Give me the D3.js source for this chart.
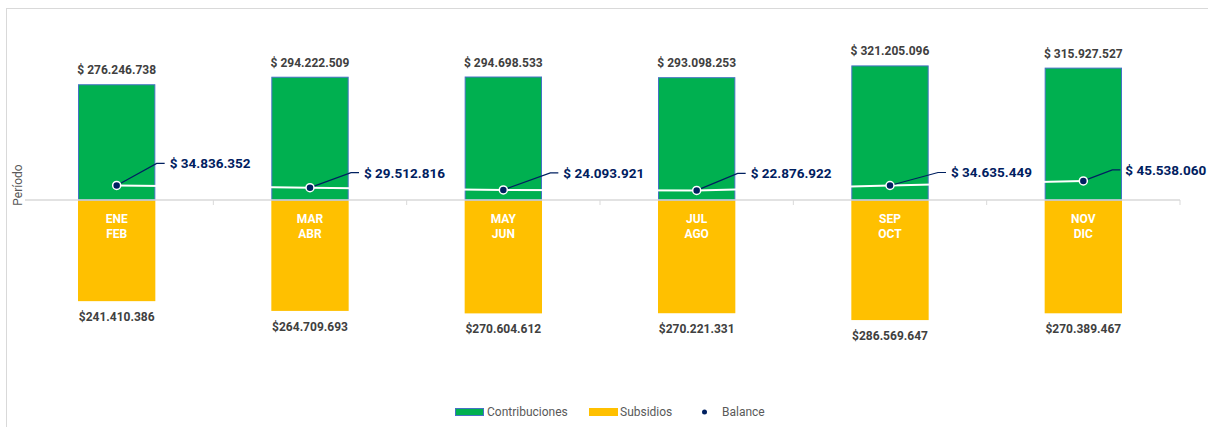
<!DOCTYPE html>
<html>
<head>
<meta charset="utf-8">
<script src="https://cdn.jsdelivr.net/npm/d3@7"></script>
<style>
  body { margin: 0; background: #fff; }
  svg { display: block; font-family: Roboto, "Liberation Sans", sans-serif; }
</style>
</head>
<body>
<svg width="1208" height="427"></svg>
<script>
document.addEventListener("DOMContentLoaded", function () {

  // data
  var periods = [["ENE", "FEB"], ["MAR", "ABR"], ["MAY", "JUN"], ["JUL", "AGO"], ["SEP", "OCT"], ["NOV", "DIC"]];
  var contribuciones = [276246738, 294222509, 294698533, 293098253, 321205096, 315927527];
  var subsidios = [241410386, 264709693, 270604612, 270221331, 286569647, 270389467];
  var balance = [34836352, 29512816, 24093921, 22876922, 34635449, 45538060];

  // label placement for the balance callouts (offset from the dot, px)
  var calloutDx = [53, 54, 60, 54, 61, 42];
  var calloutDy = [-22, -15, -17, -17, -13, -11];

  var svg = d3.select("svg");
  var fmt = function (v) {
    return d3.format(",")(v).replace(/,/g, ".");
  };

  var xScale = d3.scaleBand()
    .domain(d3.range(periods.length))
    .range([20, 1180])
    .paddingInner(0.6)
    .paddingOuter(0.3);

  var yScale = d3.scaleLinear()
    .domain([-400e6, 400e6])
    .range([200 + 167.6, 200 - 167.6]);

  // chart frame
  svg.append("rect")
    .attr("x", 6.5).attr("y", 8.5)
    .attr("width", 1400).attr("height", 600)
    .style("fill", "none")
    .style("stroke", "#d9d9d9")
    .style("stroke-width", "1px");

  // subsidios (negative side)
  svg.selectAll("rect.sub")
    .data(subsidios).enter()
    .append("rect")
    .attr("class", "sub")
    .attr("x", function (d, i) { return xScale(i); })
    .attr("width", xScale.bandwidth())
    .attr("y", yScale(0))
    .attr("height", function (d) { return yScale(-d) - yScale(0); })
    .style("fill", "#FFC000");

  // contribuciones
  svg.selectAll("rect.con")
    .data(contribuciones).enter()
    .append("rect")
    .attr("class", "con")
    .attr("x", function (d, i) { return xScale(i) + 0.5; })
    .attr("width", xScale.bandwidth() - 1)
    .attr("y", function (d) { return yScale(d) + 0.5; })
    .attr("height", function (d) { return yScale(0) - yScale(d) - 0.5; })
    .style("fill", "#00B050")
    .style("stroke", "#4472C4")
    .style("stroke-width", "1px");

  // category axis
  var xAxisG = svg.append("g").attr("id", "xAxisG");
  xAxisG.append("line")
    .attr("x1", 25).attr("x2", 1180)
    .attr("y1", yScale(0)).attr("y2", yScale(0))
    .style("stroke", "#d9d9d9")
    .style("stroke-width", "1.5px");
  xAxisG.selectAll("line.tick")
    .data(d3.range(1, periods.length + 1)).enter()
    .append("line")
    .attr("class", "tick")
    .attr("x1", function (i) { return 20 + i * xScale.step(); })
    .attr("x2", function (i) { return 20 + i * xScale.step(); })
    .attr("y1", yScale(0)).attr("y2", yScale(0) + 5)
    .style("stroke", "#d9d9d9")
    .style("stroke-width", "1px");

  svg.append("text")
    .attr("transform", "translate(22,185) rotate(-90)")
    .attr("text-anchor", "middle")
    .style("font-size", "12px")
    .style("fill", "#595959")
    .text("Período");

  // month labels inside the yellow bars
  svg.selectAll("text.period")
    .data(periods).enter()
    .append("text")
    .attr("class", "period")
    .attr("text-anchor", "middle")
    .attr("x", function (d, i) { return xScale(i) + xScale.bandwidth() / 2; })
    .attr("y", yScale(0) + 22.5)
    .style("font-size", "12px")
    .style("font-weight", "bold")
    .style("fill", "#fff")
    .each(function (d) {
      var t = d3.select(this);
      var x = t.attr("x");
      t.append("tspan").attr("x", x).text(d[0]);
      t.append("tspan").attr("x", x).attr("dy", 15).text(d[1]);
    });

  // value labels
  svg.selectAll("text.conLabel")
    .data(contribuciones).enter()
    .append("text")
    .attr("class", "conLabel")
    .attr("text-anchor", "middle")
    .attr("x", function (d, i) { return xScale(i) + xScale.bandwidth() / 2; })
    .attr("y", function (d) { return yScale(d) - 10; })
    .style("font-size", "12px")
    .style("font-weight", "bold")
    .style("fill", "#404040")
    .text(function (d) { return "$ " + fmt(d); });

  svg.selectAll("text.subLabel")
    .data(subsidios).enter()
    .append("text")
    .attr("class", "subLabel")
    .attr("text-anchor", "middle")
    .attr("x", function (d, i) { return xScale(i) + xScale.bandwidth() / 2; })
    .attr("y", function (d) { return yScale(-d) + 20; })
    .style("font-size", "12px")
    .style("font-weight", "bold")
    .style("fill", "#404040")
    .text(function (d) { return "$" + fmt(d); });

  // balance line
  var line = d3.line()
    .x(function (d, i) { return xScale(i) + xScale.bandwidth() / 2; })
    .y(function (d) { return yScale(d); });

  svg.append("path")
    .datum(balance)
    .attr("d", line)
    .style("fill", "none")
    .style("stroke", "#fff")
    .style("stroke-width", "2px");

  // callouts
  svg.selectAll("g.callout")
    .data(balance).enter()
    .append("g")
    .attr("class", "callout")
    .each(function (d, i) {
      var cx = xScale(i) + xScale.bandwidth() / 2;
      var cy = yScale(d);
      var tx = cx + calloutDx[i];
      var ty = cy + calloutDy[i];

      d3.select(this)
        .append("polyline")
        .attr("points", [[cx, cy], [tx - 13, ty], [tx - 5, ty]].join(" "))
        .style("fill", "none")
        .style("stroke", "#002060")
        .style("stroke-width", "1.2px");

      d3.select(this)
        .append("text")
        .attr("x", tx)
        .attr("y", ty + 5)
        .style("font-size", "13.5px")
        .style("font-weight", "bold")
        .style("fill", "#002060")
        .text("$ " + fmt(d));
    });

  svg.selectAll("circle.dot")
    .data(balance).enter()
    .append("circle")
    .attr("class", "dot")
    .attr("cx", function (d, i) { return xScale(i) + xScale.bandwidth() / 2; })
    .attr("cy", function (d) { return yScale(d); })
    .attr("r", 4)
    .style("fill", "#002060")
    .style("stroke", "#fff")
    .style("stroke-width", "1.5px");

  // legend
  var legend = svg.append("g").attr("class", "legend")
    .style("font-size", "12px")
    .style("fill", "#595959");

  legend.append("rect")
    .attr("x", 455.5).attr("y", 408.5).attr("width", 28).attr("height", 7)
    .style("fill", "#00B050").style("stroke", "#4472C4");
  legend.append("text").attr("x", 487).attr("y", 416).text("Contribuciones");

  legend.append("rect")
    .attr("x", 589).attr("y", 408).attr("width", 29).attr("height", 8)
    .style("fill", "#FFC000");
  legend.append("text").attr("x", 620).attr("y", 416).text("Subsidios");

  legend.append("circle")
    .attr("cx", 704.5).attr("cy", 412).attr("r", 2.5)
    .style("fill", "#002060");
  legend.append("text").attr("x", 722).attr("y", 416).text("Balance");

});
</script>
</body>
</html>
